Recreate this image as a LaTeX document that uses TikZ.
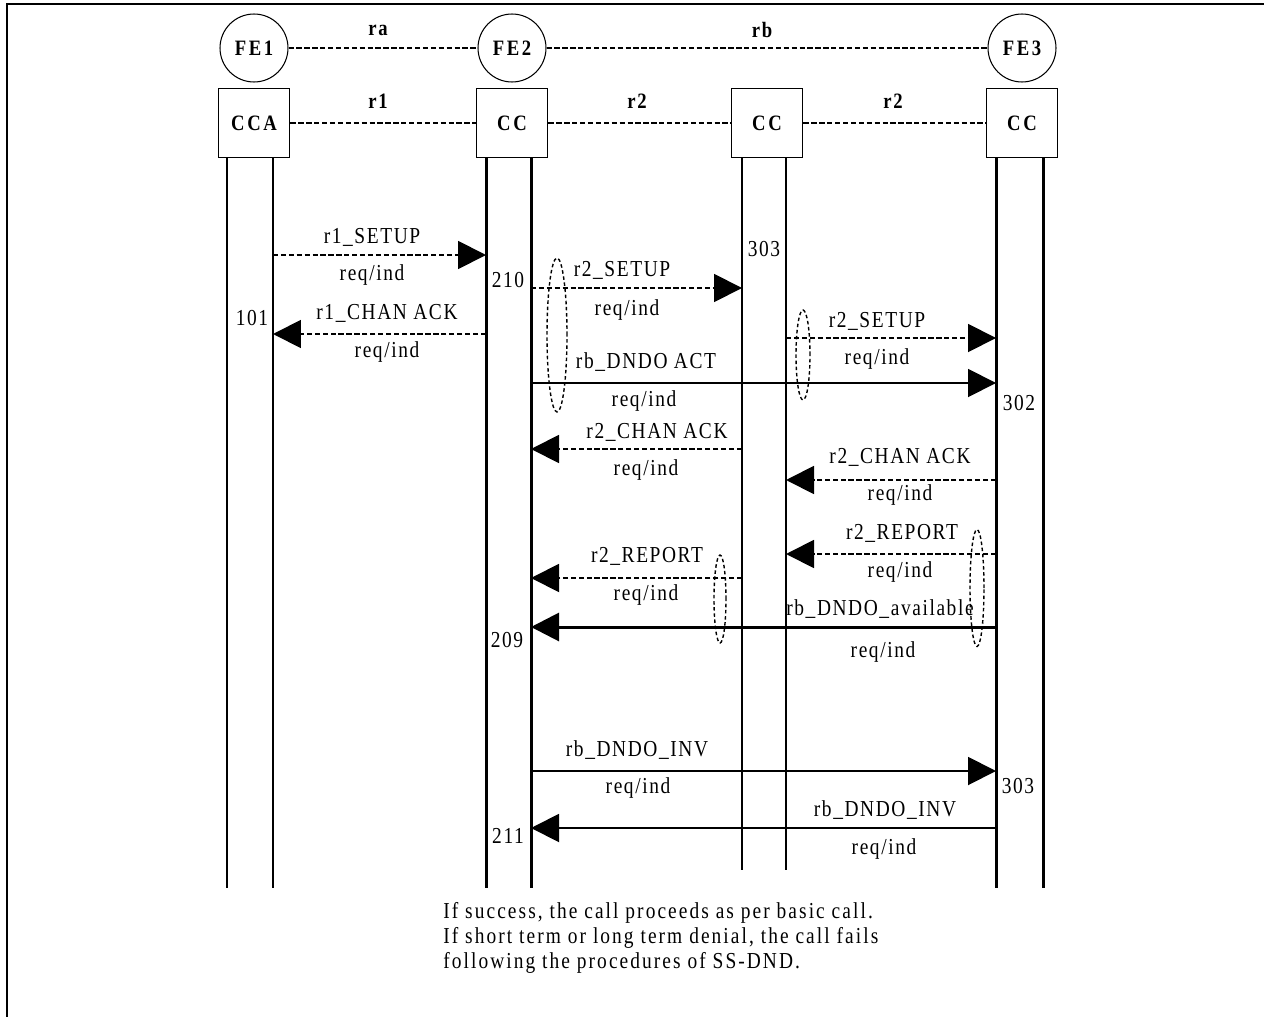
\documentclass[tikz,border=0pt]{standalone}
\usepackage{fontspec}
\setmainfont{Liberation Serif}[FakeStretch=0.85, LetterSpace=7]
\usetikzlibrary{calc, arrows.meta}

\tikzset{
  fe/.style={circle, draw, line width=0.6pt, minimum size=1.36cm, inner sep=0pt,
    font=\fontsize{12.5}{14}\selectfont\bfseries\addfontfeature{LetterSpace=12}},
  ent/.style={rectangle, draw, line width=1.1pt, minimum width=1.42cm, minimum height=1.38cm,
    inner sep=0pt, font=\fontsize{12.5}{14}\selectfont\bfseries\addfontfeature{LetterSpace=12}},
  rel/.style={font=\fontsize{12.5}{14}\selectfont\bfseries\addfontfeature{LetterSpace=8}, inner sep=0pt},
  iface/.style={line width=0.7pt, dash pattern=on 3pt off 1.5pt},
  life/.style={line width=1.1pt},
  lifeb/.style={line width=1.7pt},
  sigd/.style={line width=1.1pt, dash pattern=on 3pt off 1.5pt, -{Triangle[length=0.56cm, width=0.56cm]}},
  sigs/.style={line width=1.1pt, -{Triangle[length=0.56cm, width=0.56cm]}},
  lbl/.style={font=\fontsize{13}{15}\selectfont, inner sep=0pt},
  grp/.style={line width=0.8pt, dash pattern=on 2pt off 1.5pt}
}

\begin{document}
\begin{tikzpicture}[x=0.02cm, y=-0.02cm]
  \useasboundingbox (0,0) rectangle (1264,1017);
  \draw[line width=1.1pt] (1264,4) -- (7,4) -- (7,1017);

  % functional entities and their call control boxes
  \node[fe] (fe1) at (254,48) {FE1};
  \node[fe] (fe2) at (512,48) {FE2};
  \node[fe] (fe3) at (1022,48) {FE3};
  \node[ent, text depth=-4pt] (cca) at (254,123) {CCA};
  \node[ent, text depth=-4pt] (cc2) at (512,123) {CC};
  \node[ent] (ccm) at (767,123) {CC};
  \node[ent, text depth=-4pt] (cc3) at (1022,123) {CC};

  \draw[iface] (fe1) -- (fe2);
  \draw[iface] (fe2) -- (fe3);
  \draw[iface] (cca) -- (cc2);
  \draw[iface] (cc2) -- (ccm);
  \draw[iface, line width=1.1pt] (ccm) -- (cc3);
  \node[rel] (ra) at (378,30) {ra};
  \node[rel] (rb) at (762,30) {rb};
  \node[rel] (r1) at (378,101) {r1};
  \node[rel] (r2a) at (637,101) {r2};
  \node[rel] (r2b) at (893,101) {r2};

  % lifelines
  \coordinate (a1) at (227,158);
  \coordinate (a2) at (273,158);
  \coordinate (b1) at (486,158);
  \coordinate (b2) at (531,158);
  \coordinate (c1) at (742,158);
  \coordinate (c2) at (786,158);
  \coordinate (d1) at (996,158);
  \coordinate (d2) at (1043,158);
  \draw[life] (a1) -- (a1 |- 0,888);
  \draw[life] (a2) -- (a2 |- 0,888);
  \draw[lifeb] (b1) -- (b1 |- 0,888);
  \draw[lifeb] (b2) -- (b2 |- 0,888);
  \draw[life] (c1) -- (c1 |- 0,870);
  \draw[life] (c2) -- (c2 |- 0,870);
  \draw[lifeb] (d1) -- (d1 |- 0,888);
  \draw[lifeb] (d2) -- (d2 |- 0,888);

  % FE1 <-> FE2
  \draw[sigd] (a2 |- 0,255) -- (b1 |- 0,255);
  \node[lbl] (m1) at (372,237) {r1\_SETUP};
  \node[lbl] (q1) at (372,275) {req/ind};
  \draw[sigd] (b1 |- 0,334) -- (a2 |- 0,334);
  \node[lbl] (m2) at (387,313) {r1\_CHAN ACK};
  \node[lbl] (q2) at (387,352) {req/ind};
  \node[lbl] (n101) at (252,318) {101};
  \node[lbl] (n210) at (508,280) {210};

  % FE2 -> FE3
  \draw[sigd] (b2 |- 0,288) -- (c1 |- 0,288);
  \node[lbl] (m3) at (622,270) {r2\_SETUP};
  \node[lbl] (q3) at (627,310) {req/ind};
  \node[lbl] (n303a) at (764,249) {303};
  \draw[sigd] (c2 |- 0,338) -- (d1 |- 0,338);
  \node[lbl] (m4) at (877,321) {r2\_SETUP};
  \node[lbl] (q4) at (877,359) {req/ind};
  \draw[sigs] (b2 |- 0,383) -- (d1 |- 0,383);
  \node[lbl] (m5) at (646,362) {rb\_DNDO ACT};
  \node[lbl] (q5) at (644,401) {req/ind};
  \node[lbl] (n302) at (1019,403) {302};
  \draw[grp] (557,335) ellipse [x radius=0.2cm, y radius=1.54cm];
  \draw[grp] (803,355) ellipse [x radius=0.14cm, y radius=0.9cm];

  % FE3 -> FE2
  \draw[sigd] (c1 |- 0,449) -- (b2 |- 0,449);
  \node[lbl] (m6) at (657,432) {r2\_CHAN ACK};
  \node[lbl] (q6) at (646,470) {req/ind};
  \draw[sigd] (d1 |- 0,480) -- (c2 |- 0,480);
  \node[lbl] (m7) at (900,457) {r2\_CHAN ACK};
  \node[lbl] (q7) at (900,495) {req/ind};
  \draw[sigd] (d1 |- 0,554) -- (c2 |- 0,554);
  \node[lbl] (m8) at (902,533) {r2\_REPORT};
  \node[lbl] (q8) at (900,572) {req/ind};
  \draw[sigd] (c1 |- 0,578) -- (b2 |- 0,578);
  \node[lbl] (m9) at (647,556) {r2\_REPORT};
  \node[lbl] (q9) at (646,595) {req/ind};
  \draw[sigs, line width=1.7pt] (d1 |- 0,627) -- (b2 |- 0,627);
  \node[lbl] (m10) at (880,609) {rb\_DNDO\_available};
  \node[lbl] (q10) at (883,652) {req/ind};
  \node[lbl] (n209) at (507,640) {209};
  \draw[grp] (720,599) ellipse [x radius=0.12cm, y radius=0.88cm];
  \draw[grp] (977,588) ellipse [x radius=0.14cm, y radius=1.17cm];

  % invoke
  \draw[sigs] (b2 |- 0,771) -- (d1 |- 0,771);
  \node[lbl] (m11) at (637,750) {rb\_DNDO\_INV};
  \node[lbl] (q11) at (638,788) {req/ind};
  \node[lbl] (n303b) at (1018,786) {303};
  \draw[sigs] (d1 |- 0,828) -- (b2 |- 0,828);
  \node[lbl] (m12) at (885,810) {rb\_DNDO\_INV};
  \node[lbl] (q12) at (884,849) {req/ind};
  \node[lbl] (n211) at (508,836) {211};

  \node[lbl, anchor=north west, align=left,
    font=\fontsize{13}{14.2}\selectfont\addfontfeature{LetterSpace=9}] (note) at (443,902)
    {If success, the call proceeds as per basic call.\\
     If short term or long term denial, the call fails\\
     following the procedures of SS-DND.};
\end{tikzpicture}
\end{document}
